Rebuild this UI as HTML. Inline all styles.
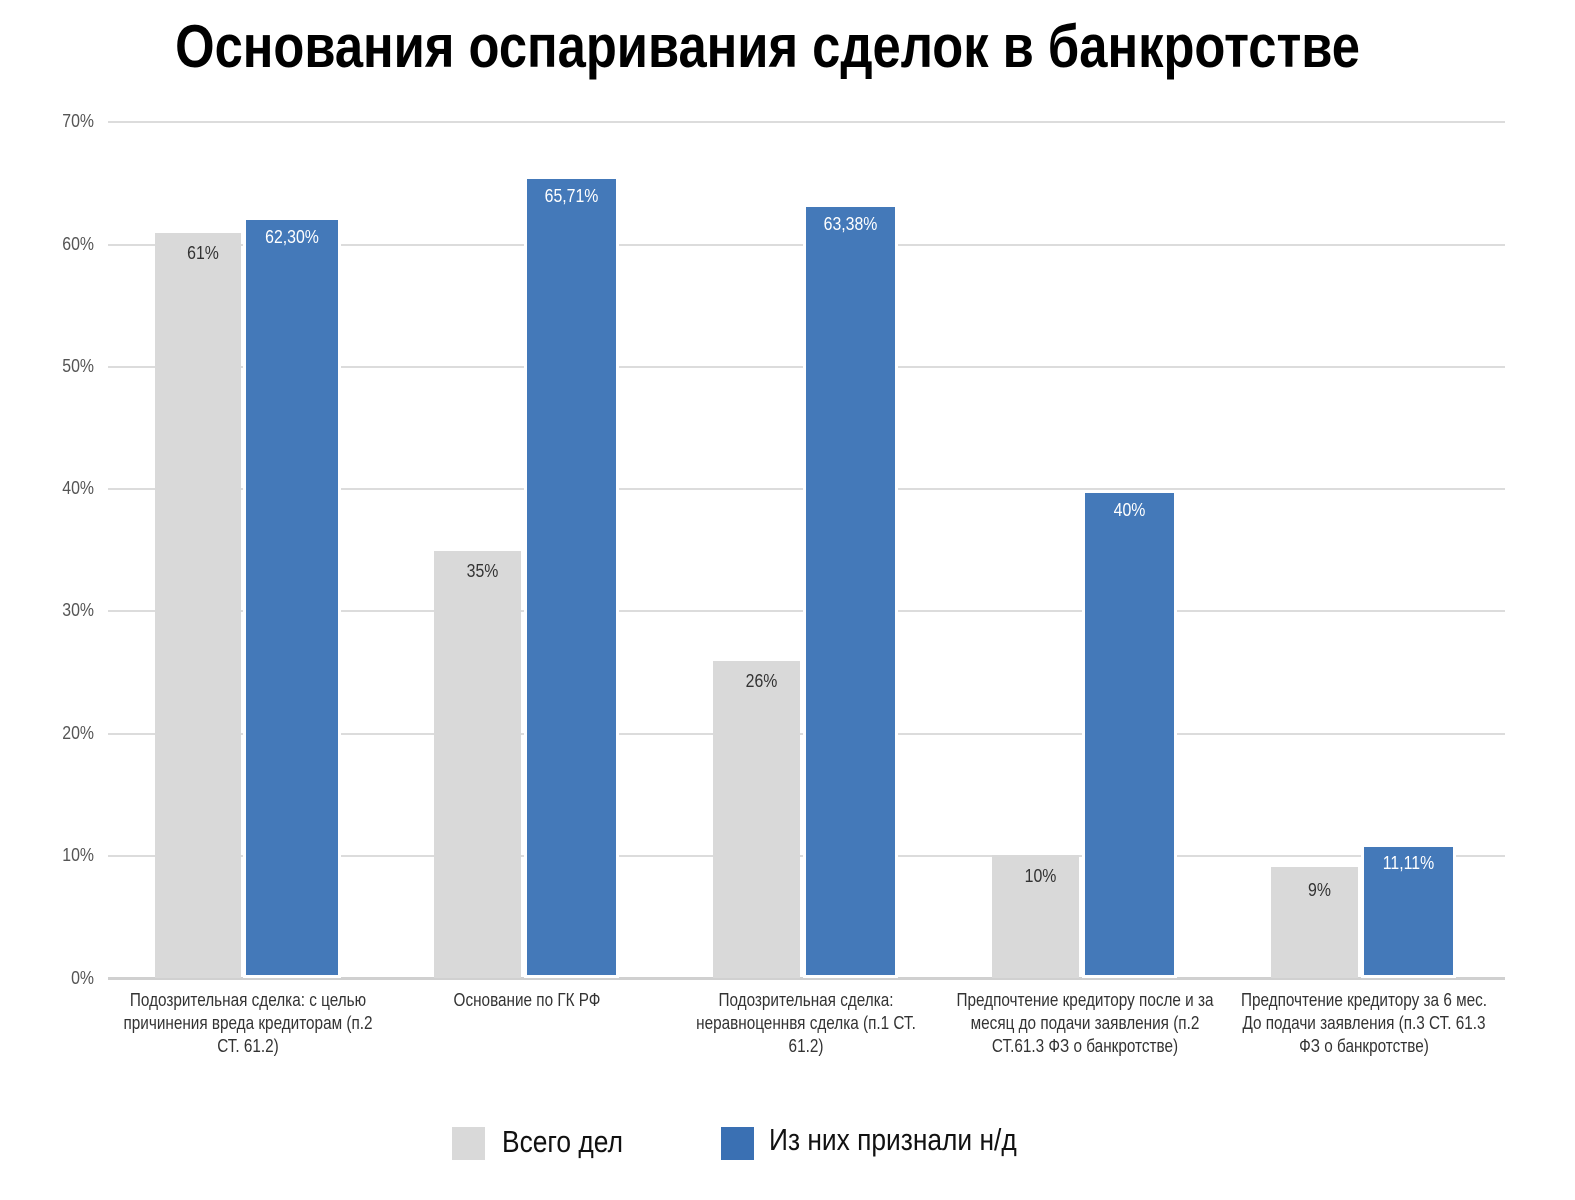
<!DOCTYPE html>
<html><head><meta charset="utf-8"><style>
html,body{margin:0;padding:0;background:#fff;}
body{width:1575px;height:1200px;position:relative;overflow:hidden;font-family:"Liberation Sans",sans-serif;}
.a{position:absolute;}
.g{position:absolute;left:108px;width:1397px;height:2px;background:#dcdcdc;}
.t{position:absolute;left:40px;width:54px;text-align:right;font-size:18px;color:#555;transform:scaleX(0.88);transform-origin:right center;}
.gb{position:absolute;background:#d9d9d9;}
.bb{position:absolute;background:#4479b9;box-shadow:0 0 0 3px #fff;}
.v{position:absolute;font-size:18px;text-align:center;transform:scaleX(0.88);}
.c{position:absolute;width:360px;text-align:center;font-size:18px;line-height:23px;color:#333;white-space:nowrap;transform:scaleX(0.85);transform-origin:center top;}
</style></head><body>
<div class="a" style="left:0;width:1535px;top:12px;text-align:center;font-size:60px;font-weight:bold;color:#000;transform:scaleX(0.845);transform-origin:768px 0;">Основания оспаривания сделок в банкротстве</div>

<div class="g" style="top:121px"></div>
<div class="g" style="top:244px"></div>
<div class="g" style="top:366px"></div>
<div class="g" style="top:488px"></div>
<div class="g" style="top:610px"></div>
<div class="g" style="top:733px"></div>
<div class="g" style="top:855px"></div>
<div class="g" style="top:977px;height:3px;background:#d0d0d0"></div>

<div class="t" style="top:111px">70%</div>
<div class="t" style="top:234px">60%</div>
<div class="t" style="top:356px">50%</div>
<div class="t" style="top:478px">40%</div>
<div class="t" style="top:600px">30%</div>
<div class="t" style="top:723px">20%</div>
<div class="t" style="top:845px">10%</div>
<div class="t" style="top:968px">0%</div>

<div class="gb" style="left:155px;width:86px;top:233px;height:745px"></div>
<div class="bb" style="left:246px;width:92px;top:220px;height:755px"></div>
<div class="gb" style="left:434px;width:87px;top:551px;height:427px"></div>
<div class="bb" style="left:527px;width:89px;top:179px;height:796px"></div>
<div class="gb" style="left:713px;width:87px;top:661px;height:317px"></div>
<div class="bb" style="left:806px;width:89px;top:207px;height:768px"></div>
<div class="gb" style="left:992px;width:87px;top:855px;height:123px"></div>
<div class="bb" style="left:1085px;width:89px;top:493px;height:482px"></div>
<div class="gb" style="left:1271px;width:87px;top:867px;height:111px"></div>
<div class="bb" style="left:1364px;width:89px;top:847px;height:128px"></div>

<div class="v" style="left:155px;width:96px;top:243px;color:#333">61%</div>
<div class="v" style="left:246px;width:92px;top:227px;color:#fff">62,30%</div>
<div class="v" style="left:434px;width:97px;top:561px;color:#333">35%</div>
<div class="v" style="left:527px;width:89px;top:186px;color:#fff">65,71%</div>
<div class="v" style="left:713px;width:97px;top:671px;color:#333">26%</div>
<div class="v" style="left:806px;width:89px;top:214px;color:#fff">63,38%</div>
<div class="v" style="left:992px;width:97px;top:866px;color:#333">10%</div>
<div class="v" style="left:1085px;width:89px;top:500px;color:#fff">40%</div>
<div class="v" style="left:1271px;width:97px;top:880px;color:#333">9%</div>
<div class="v" style="left:1364px;width:89px;top:853px;color:#fff">11,11%</div>

<div class="c" style="left:68px;top:989px">Подозрительная сделка: с целью<br>причинения вреда кредиторам (п.2<br>СТ. 61.2)</div>
<div class="c" style="left:347px;top:989px">Основание по ГК РФ</div>
<div class="c" style="left:626px;top:989px">Подозрительная сделка:<br>неравноценнвя сделка (п.1 СТ.<br>61.2)</div>
<div class="c" style="left:905px;top:989px">Предпочтение кредитору после и за<br>месяц до подачи заявления (п.2<br>СТ.61.3 ФЗ о банкротстве)</div>
<div class="c" style="left:1184px;top:989px">Предпочтение кредитору за 6 мес.<br>До подачи заявления (п.3 СТ. 61.3<br>ФЗ о банкротстве)</div>

<div class="a" style="left:452px;top:1127px;width:33px;height:33px;background:#d9d9d9"></div>
<div class="a" style="left:502px;top:1124px;font-size:31px;color:#111;transform:scaleX(0.85);transform-origin:left center;white-space:nowrap">Всего дел</div>
<div class="a" style="left:721px;top:1127px;width:33px;height:33px;background:#3a70b3"></div>
<div class="a" style="left:769px;top:1122px;font-size:31px;color:#111;transform:scaleX(0.85);transform-origin:left center;white-space:nowrap">Из них признали н/д</div>
</body></html>
